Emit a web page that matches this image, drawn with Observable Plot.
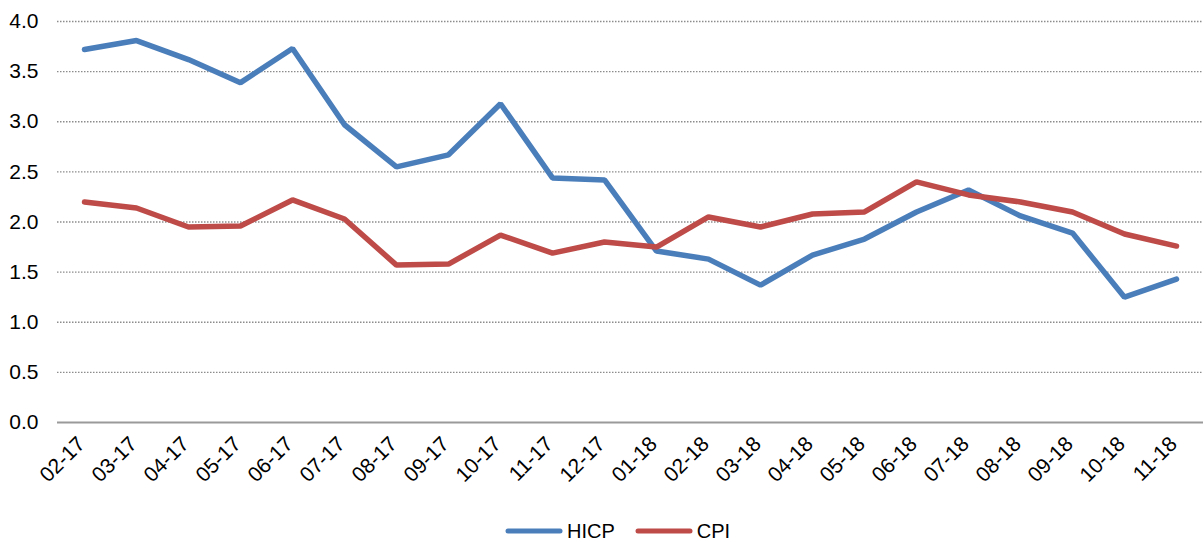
<!DOCTYPE html>
<html><head><meta charset="utf-8">
<script src="https://cdn.jsdelivr.net/npm/d3@7"></script>
<script src="https://cdn.jsdelivr.net/npm/@observablehq/plot@0.6"></script>
<style>
body{margin:0;background:#fff;font-family:"Liberation Sans",Arial,sans-serif;}
#wrap{position:relative;width:1204px;height:542px;}
#legend{position:absolute;left:505px;top:510px;height:42px;display:flex;align-items:center;font-size:20px;color:#000;}
#legend .item{display:flex;align-items:center;margin-right:20px;}
#legend svg{margin-right:4px;}
</style>
</head><body><div id="wrap"><div id="chart"></div><div id="legend"></div></div>
<script>
const months = ["02-17","03-17","04-17","05-17","06-17","07-17","08-17","09-17","10-17","11-17","12-17","01-18","02-18","03-18","04-18","05-18","06-18","07-18","08-18","09-18","10-18","11-18"];
const hicp = [3.72,3.81,3.62,3.39,3.73,2.97,2.55,2.67,3.18,2.44,2.42,1.71,1.63,1.37,1.67,1.83,2.10,2.32,2.06,1.89,1.25,1.43];
const cpi  = [2.20,2.14,1.95,1.96,2.22,2.03,1.57,1.58,1.87,1.69,1.80,1.75,2.05,1.95,2.08,2.10,2.40,2.27,2.20,2.10,1.88,1.76];
const yTicks = [0,0.5,1,1.5,2,2.5,3,3.5,4];
const seriesNames = ["HICP","CPI"];
const seriesColors = ["#4a7ebb","#be4b48"];

const data = [];
months.forEach((m,i)=>data.push({month:m,value:hicp[i],series:"HICP"}));
months.forEach((m,i)=>data.push({month:m,value:cpi[i],series:"CPI"}));

const chart = Plot.plot({
  width:1204, height:500,
  marginLeft:57, marginRight:1, marginTop:21, marginBottom:78,
  style:{fontFamily:"'Liberation Sans', Arial, sans-serif", fontSize:"20px", color:"#000", background:"#fff", overflow:"visible"},
  x:{type:"point", domain:months, padding:0.5, label:null},
  y:{domain:[0,4], label:null},
  color:{domain:seriesNames, range:seriesColors},
  marks:[
    Plot.ruleY(yTicks.filter(d=>d>0), {stroke:"#8c8c8c", strokeWidth:1.3, strokeDasharray:"1.5,1.5"}),
    Plot.ruleY([0], {stroke:"#9a9a9a", strokeWidth:2}),
    Plot.axisY({ticks:yTicks, tickSize:0, tickPadding:19, tickFormat:d=>d.toFixed(1), fontSize:21, label:null}),
    Plot.axisX({tickSize:0, tickRotate:-45, tickPadding:18, dx:-3, fontSize:21, label:null}),
    Plot.line(data, {x:"month", y:"value", z:"series", stroke:"series", strokeWidth:5.5, strokeLinejoin:"miter", strokeLinecap:"round"})
  ]
});
document.getElementById("chart").appendChild(chart);

const legend = document.getElementById("legend");
seriesNames.forEach((name,i)=>{
  const item = document.createElement("div");
  item.className = "item";
  item.innerHTML = `<svg width="58" height="10"><line x1="3" y1="5" x2="55" y2="5" stroke="${seriesColors[i]}" stroke-width="5" stroke-linecap="round"/></svg><span>${name}</span>`;
  legend.appendChild(item);
});
</script>
</body></html>
